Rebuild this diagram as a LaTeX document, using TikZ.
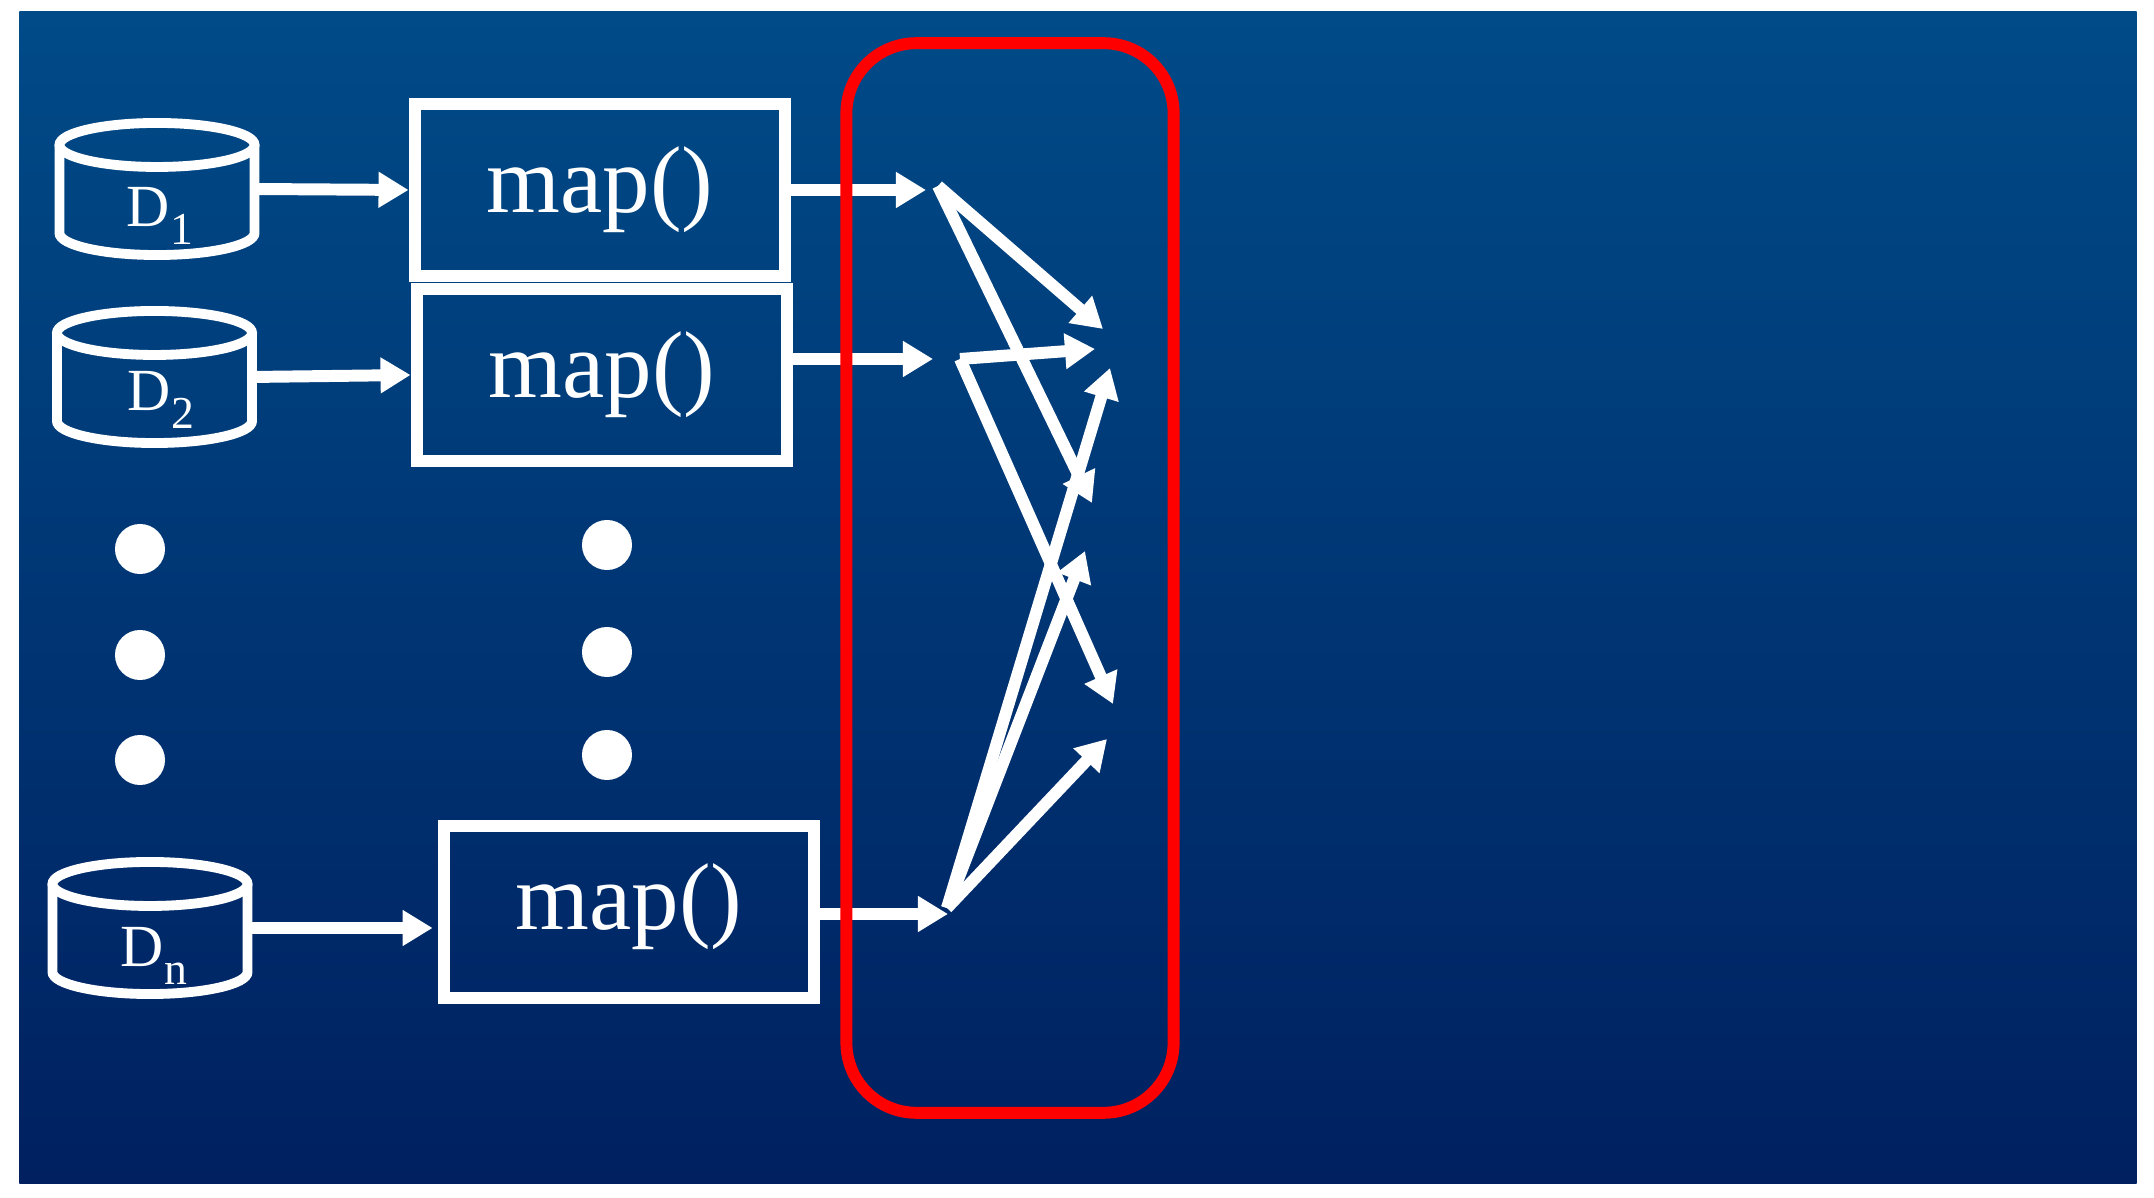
\documentclass[tikz,border=0pt]{standalone}
\usepackage{fontspec}
\setmainfont{Liberation Serif}
\usetikzlibrary{positioning, arrows.meta}
\definecolor{paneltop}{RGB}{0,75,136}
\definecolor{panelbottom}{RGB}{0,32,96}
\newcommand{\maptext}{\fontsize{27}{27}\selectfont map()}
\newcommand{\dtext}[1]{D\raisebox{-5pt}{\fontsize{13}{13}\selectfont #1}}

\begin{document}
\begin{tikzpicture}[
		x=0.01cm, y=-0.01cm,
		panel/.style={rectangle, top color=paneltop, bottom color=panelbottom, draw=none, minimum width=21.16cm, minimum height=11.71cm},
		mapbox/.style={draw=white, rectangle, line width=3.6pt, minimum width=3.7cm, minimum height=1.72cm, text=white, inner sep=0pt},
		database/.style={rectangle, minimum width=1.95cm, minimum height=1.32cm, inner sep=0pt, outer sep=0pt},
		dbline/.style={draw=white, line width=2.8pt},
		dlabel/.style={text=white, inner sep=0pt, font=\fontsize{17}{17}\selectfont},
		dot/.style={circle, fill=white, minimum size=0.5cm, inner sep=0pt},
		arrow/.style={draw=white, line width=3.4pt, -{Triangle[length=0.3cm, width=0.34cm]}},
		frame/.style={draw=red, rectangle, rounded corners=0.7cm, line width=3.4pt, minimum width=3.27cm, minimum height=10.69cm}
		]
		
		\useasboundingbox (0,0) rectangle (2154,1198);
		\node[panel] (back) at (1078,597.5) {};
		
		% Define Nodes
		\node[database] (db1) at (157,189) {};
		\node[database] (db2) at (154.5,377) {};
		\node[database] (dbn) at (150,928) {};
		\foreach \d in {db1,db2,dbn} {
			\draw[dbline] ([yshift=-0.22cm]\d.north) ellipse [x radius=0.975cm, y radius=0.22cm];
			\draw[dbline] ([yshift=-0.22cm]\d.north west) -- ([yshift=0.22cm]\d.south west) arc [start angle=180, end angle=360, x radius=0.975cm, y radius=0.22cm] -- ([yshift=-0.22cm]\d.north east);
		}
		\node[dlabel] (d1) at (160,216) {\dtext{1}};
		\node[dlabel] (d2) at (161,400) {\dtext{2}};
		\node[dlabel] (dn) at (154,956) {\dtext{n}};
		
		\node[mapbox] (box1) at (600,190) {\maptext};
		\node[mapbox] (box2) at (602,375) {\maptext};
		\node[mapbox, text depth=8.5pt] (boxn) at (629,912) {\maptext};
		
		% Dots between the rows
		\foreach \y [count=\i] in {549,655,760} {
			\node[dot] (left\i) at (140,\y) {};
		}
		\foreach \y [count=\i] in {545,652,755} {
			\node[dot] (right\i) at (607,\y) {};
		}
		
		% Free ends of the connectors
		\coordinate (tip1) at (926,190);
		\coordinate (tip2) at (933,359);
		\coordinate (tipn) at (948,914);
		\coordinate (fan1) at (938,186);
		\coordinate (fan2) at (960,359);
		\coordinate (fann) at (947,908);
		\coordinate (end1) at (1103,329);
		\coordinate (end2) at (1092,503);
		\coordinate (end3) at (1095,349);
		\coordinate (end4) at (1113,704);
		\coordinate (end5) at (1110,368);
		\coordinate (end6) at (1085,551);
		\coordinate (end7) at (1107,739);
		
		% Draw mappings
		\draw[arrow] (db1.east) -- (box1.west);
		\draw[arrow] (db2.east) -- (box2.west);
		\draw[arrow, shorten >=1.4pt] (dbn.east) -- (boxn.west |- dbn.east);
		\draw[arrow] (box1.east) -- (tip1);
		\draw[arrow] (box2.east |- tip2) -- (tip2);
		\draw[arrow] (boxn.east |- tipn) -- (tipn);
		
		% Shuffle
		\foreach \s/\e in {fan1/end1, fan1/end2, fan2/end3, fan2/end4, fann/end5, fann/end6, fann/end7} {
			\draw[arrow] (\s) -- (\e);
		}
		
		\node[frame] (shuffle) at (1010,578) {};
		
	\end{tikzpicture}
\end{document}
